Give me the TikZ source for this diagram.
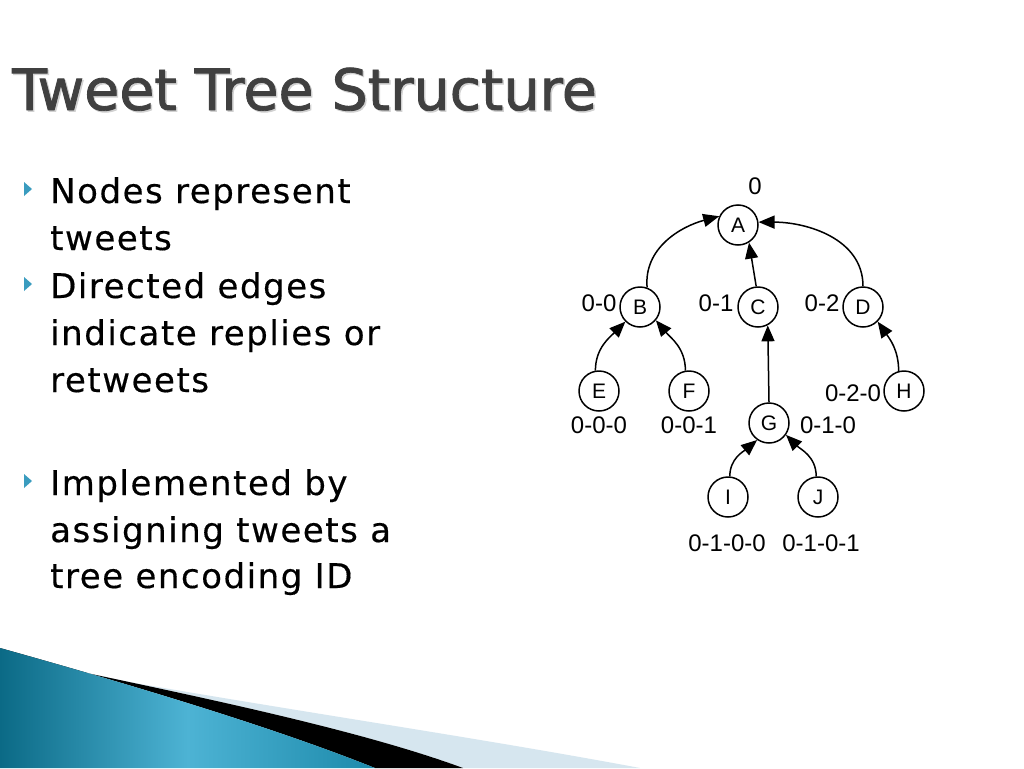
\documentclass[tikz,border=0pt]{standalone}
\usepackage{fontspec}
\usetikzlibrary{arrows.meta}
\newfontfamily\titlefont[FakeBold=1.5]{DejaVu Sans}
\newfontfamily\bodyfont[LetterSpace=4.5,FakeBold=0.4]{DejaVu Sans}
\newfontfamily\graphfont{Liberation Sans}
\definecolor{titlegray}{HTML}{404040}
\definecolor{bullteal}{HTML}{3A9CBF}
\definecolor{tealdark}{HTML}{0B6A86}
\definecolor{teallight}{HTML}{4DB3D4}
\definecolor{tealmid}{HTML}{1D8AAB}
\definecolor{paleblue}{HTML}{D6E6EF}
\tikzset{
  tnode/.style={circle,draw,line width=1.5pt,minimum size=40pt,inner sep=0pt,font=\graphfont\fontsize{21}{21}\selectfont},
  lbl/.style={font=\graphfont\fontsize{24}{24}\selectfont,inner sep=0pt},
  tedge/.style={line width=1.5pt,-{Triangle[length=16pt,width=13pt]}},
  bodyline/.style={anchor=base west,inner sep=0pt,font=\bodyfont\fontsize{34}{34}\selectfont,text=black},
  bullet/.style={fill=bullteal}
}
\begin{document}
\begin{tikzpicture}[x=1pt,y=-1pt]
\useasboundingbox (0,0) rectangle (1024,768);
\fill[white] (0,0) rectangle (1024,768);
% bottom swoosh
\fill[paleblue] (100,677) .. controls (300,712) and (480,738) .. (640,768) -- (463,768) .. controls (360,730) and (200,697) .. (63,668) -- cycle;
\fill[black] (63,668) .. controls (200,697) and (360,730) .. (463,768) -- (375,768) .. controls (280,730) and (150,690) .. (0,648) -- (0,650) -- cycle;
\shade[left color=tealdark,right color=tealmid,middle color=teallight] (0,648) .. controls (150,690) and (280,730) .. (375,768) -- (0,768) -- cycle;
% title
\node[anchor=base west,inner sep=0pt,font=\titlefont\fontsize{57}{57}\selectfont,text=black!18] (titleshadow) at (13.5,111.5) {Tweet Tree Structure};
\node[anchor=base west,inner sep=0pt,font=\titlefont\fontsize{57}{57}\selectfont,text=titlegray] (title) at (12,110) {Tweet Tree Structure};
% bullets
\fill[bullet] (24,182) -- (32,189) -- (24,196) -- cycle;
\fill[bullet] (24,277) -- (32,284) -- (24,291) -- cycle;
\fill[bullet] (24,474) -- (32,481) -- (24,488) -- cycle;
\node[bodyline] (l1) at (50,203) {Nodes represent};
\node[bodyline] (l2) at (50,250) {tweets};
\node[bodyline] (l3) at (50,298) {Directed edges};
\node[bodyline] (l4) at (50,345) {indicate replies or};
\node[bodyline] (l5) at (50,392) {retweets};
\node[bodyline] (l6) at (50,495) {Implemented by};
\node[bodyline] (l7) at (50,542) {assigning tweets a};
\node[bodyline] (l8) at (50,588) {tree encoding ID};
% tree
\node[tnode] (A) at (738,225) {A};
\node[tnode] (B) at (640,307) {B};
\node[tnode] (C) at (758,307) {C};
\node[tnode] (D) at (863,307) {D};
\node[tnode] (E) at (599,391) {E};
\node[tnode] (F) at (689,391) {F};
\node[tnode] (G) at (769,423) {G};
\node[tnode] (H) at (904,391) {H};
\node[tnode] (I) at (728,497) {I};
\node[tnode] (J) at (818,497) {J};
\node[lbl] (lA) at (755,186) {0};
\node[lbl] (lB) at (599,303) {0-0};
\node[lbl] (lC) at (716,303) {0-1};
\node[lbl] (lD) at (822,303) {0-2};
\node[lbl] (lE) at (599,425) {0-0-0};
\node[lbl] (lF) at (689,425) {0-0-1};
\node[lbl] (lG) at (828,425) {0-1-0};
\node[lbl] (lH) at (853,393) {0-2-0};
\node[lbl] (lI) at (727,543) {0-1-0-0};
\node[lbl] (lJ) at (821,543) {0-1-0-1};
\draw[tedge] (B.70) to[out=95,in=195] (A.155);
\draw[tedge] (C.95) -- (A.-58);
\draw[tedge] (D.north) to[out=90,in=0] (A.8);
\draw[tedge] (E.100) to[out=90,in=225] (B.225);
\draw[tedge] (F.100) to[out=90,in=-50] (B.-40);
\draw[tedge] (G.north) -- (C.-62);
\draw[tedge] (H.105) to[out=90,in=-55] (D.-45);
\draw[tedge] (I.85) to[out=90,in=220] (G.235);
\draw[tedge] (J.95) to[out=90,in=-45] (G.-35);
\end{tikzpicture}
\end{document}
